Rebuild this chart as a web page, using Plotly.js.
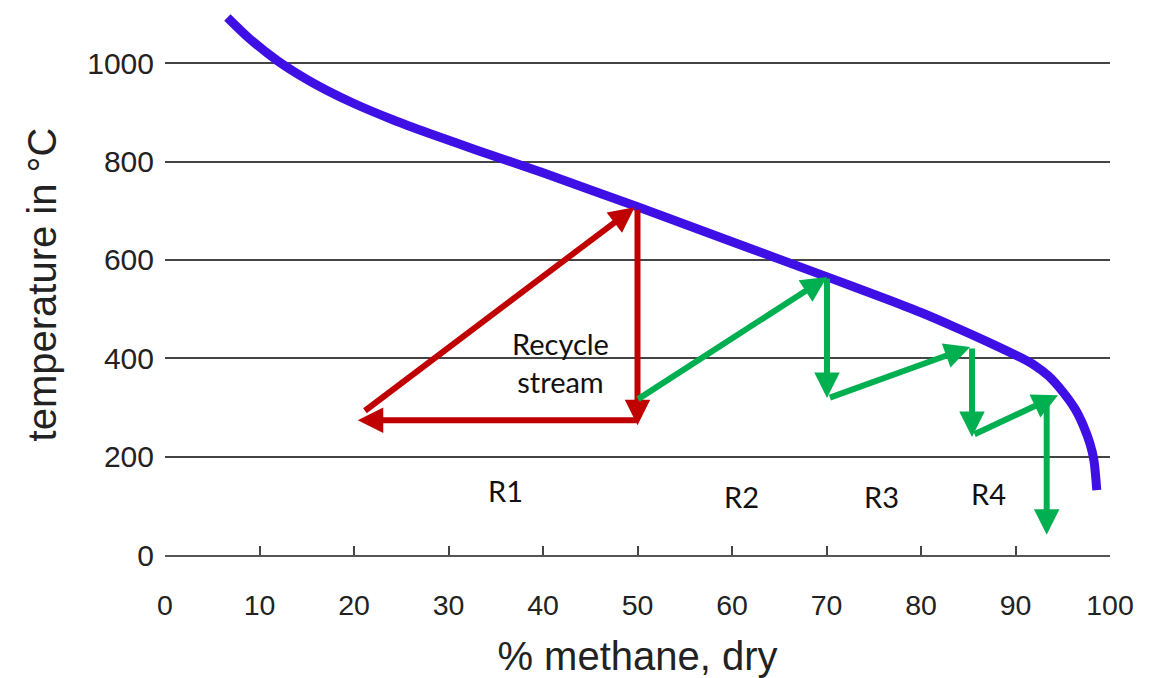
<!DOCTYPE html>
<html>
<head>
<meta charset="utf-8">
<script src="https://cdn.plot.ly/plotly-3.0.1.min.js"></script>
<style>
  html, body { margin: 0; padding: 0; background: #fff; }
  #chart { width: 1158px; height: 678px; }
</style>
</head>
<body>
<div id="chart"></div>
<script>
// Equilibrium curve: % methane (dry) vs temperature (°C)
const curveX = [6.6, 9, 11.9, 15, 17.1, 20, 24.1, 28, 33, 40, 50, 60, 70, 76.4, 80, 83.4, 87, 90.8, 92, 93.5, 95, 96.3, 97.2, 97.9, 98.3, 98.6];
const curveY = [1093, 1049, 1005, 967, 945, 918, 885, 857, 823, 777, 708, 637, 566, 520, 493, 465, 434, 399, 386, 364, 332, 297, 262, 225, 192, 132];

// Recycle-stream arrows (red): tail -> head
const redTailX = [21, 50, 50];
const redTailY = [291, 705, 274];
const redHeadX = [49.7, 50, 20.4];
const redHeadY = [707, 264, 274];

// Reactor-stage arrows (green): tail -> head
const greenTailX = [49.9, 70.05, 70.2, 85.4, 85.5, 93.3];
const greenTailY = [315, 565, 319, 423, 244, 325];
const greenHeadX = [70.05, 70.05, 85.2, 85.4, 94.5, 93.3];
const greenHeadY = [565, 319, 423, 240, 325, 41];

// Text labels
const labelText = ['Recycle<br>stream', 'R1', 'R2', 'R3', 'R4'];
const labelX = [41.9, 36, 61, 75.8, 87.1];
const labelY = [392, 132, 118, 118, 126];

const xTicks = [0, 10, 20, 30, 40, 50, 60, 70, 80, 90, 100];
const yTicks = [0, 200, 400, 600, 800, 1000];

const RED = '#C00000';
const GREEN = '#00B050';
const BLUE = '#3F10E6';

function arrows(tx, ty, hx, hy, color) {
  return tx.map((_, i) => ({
    x: hx[i], y: hy[i], ax: tx[i], ay: ty[i],
    xref: 'x', yref: 'y', axref: 'x', ayref: 'y',
    text: '', showarrow: true,
    arrowhead: 2, arrowsize: 0.85, arrowwidth: 6, arrowcolor: color,
    standoff: 0, startstandoff: 0
  }));
}

const annotations = []
  .concat(arrows(redTailX, redTailY, redHeadX, redHeadY, RED))
  .concat(arrows(greenTailX, greenTailY, greenHeadX, greenHeadY, GREEN))
  .concat(labelText.map((t, i) => ({
    x: labelX[i], y: labelY[i], xref: 'x', yref: 'y',
    text: t, showarrow: false,
    font: { family: 'Lato, "Open Sans", sans-serif', size: 29, color: '#111' },
    align: 'center'
  })));

const data = [{
  type: 'scatter', mode: 'lines',
  x: curveX, y: curveY,
  line: { color: BLUE, width: 9, shape: 'spline', smoothing: 0.8 },
  cliponaxis: false,
  hoverinfo: 'skip'
}];

const layout = {
  width: 1158, height: 678,
  margin: { l: 165, r: 48, t: 14, b: 123 },
  paper_bgcolor: '#fff', plot_bgcolor: '#fff',
  showlegend: false,
  font: { family: '"Liberation Sans", Arial, sans-serif', color: '#222' },
  xaxis: {
    range: [0, 100],
    tickvals: xTicks, ticktext: xTicks.map(String),
    showgrid: false, zeroline: false,
    showline: true, linecolor: '#555', linewidth: 2,
    ticks: 'inside', ticklen: 9, tickwidth: 2, tickcolor: '#444',
    ticklabelstandoff: 24,
    tickfont: { size: 28.5, color: '#222' },
    title: { text: '% methane, dry', font: { size: 40, color: '#222' }, standoff: 22 },
    fixedrange: true
  },
  yaxis: {
    range: [0, 1100],
    tickvals: yTicks, ticktext: yTicks.map(String),
    showgrid: true, gridcolor: '#444', gridwidth: 2,
    zeroline: false, showline: false, ticks: '',
    ticklabelstandoff: 10,
    tickfont: { size: 30, color: '#222' },
    title: { text: 'temperature in °C', font: { size: 40, color: '#222' }, standoff: 18 },
    fixedrange: true
  },
  annotations: annotations
};

Plotly.newPlot('chart', data, layout, { displayModeBar: false, staticPlot: true });
</script>
</body>
</html>
